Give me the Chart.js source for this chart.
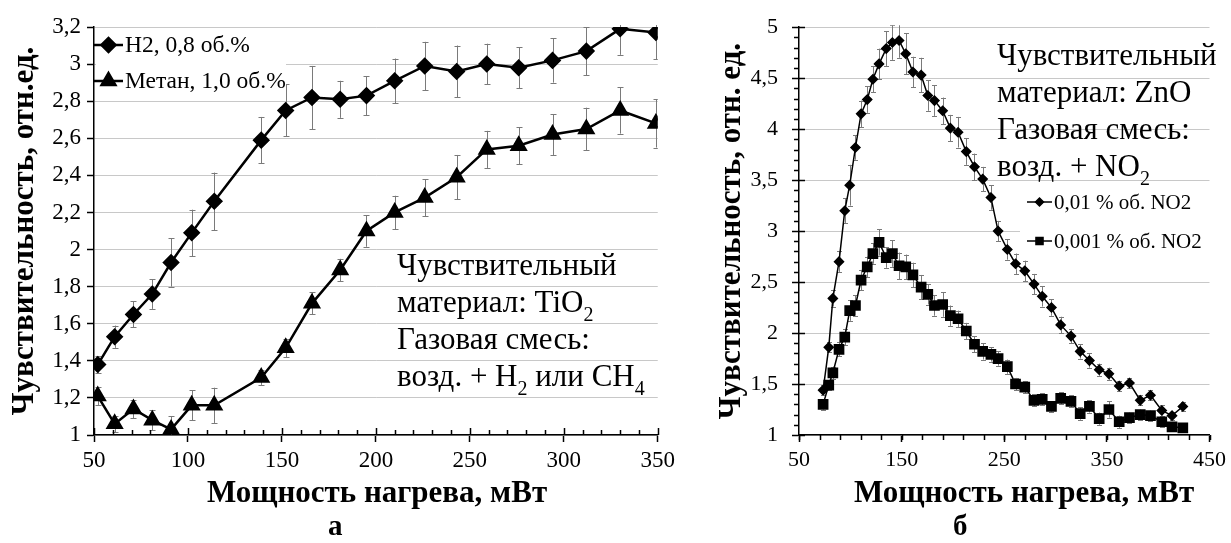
<!DOCTYPE html>
<html>
<head>
<meta charset="utf-8">
<script src="https://cdn.jsdelivr.net/npm/chart.js@4.4.0/dist/chart.umd.min.js"></script>
<style>
    html, body { margin: 0; padding: 0; background: #fff; }
    #wrap { position: relative; width: 1231px; height: 543px; overflow: hidden; font-family: "Liberation Serif", serif; }
    #chartA { position: absolute; left: 0; top: 0; }
    #chartB { position: absolute; left: 690px; top: 0; }
    .cap { position: absolute; top: 511px; font-size: 29px; font-weight: bold; line-height: 1; }
    .warm { position: absolute; left: -999px; top: 0; font-size: 20px; }
</style>
</head>
<body>
<div id="wrap">
    <canvas id="chartA" width="680" height="543"></canvas>
    <canvas id="chartB" width="541" height="543"></canvas>
    <div class="cap" style="left:328px">а</div>
    <div class="cap" style="left:953px">б</div>
    <span class="warm">Чувствительный 0,5</span>
</div>
<script>
// ---- panel а: TiO2, H2 / CH4 ----
const powerA = [52, 61, 71, 81, 91, 102, 114, 139, 152, 166, 181, 195, 210, 226, 243, 259, 276, 294, 312, 330, 349];
const h2Values = [1.38, 1.53, 1.65, 1.76, 1.93, 2.09, 2.26, 2.59, 2.75, 2.82, 2.81, 2.83, 2.91, 2.99, 2.96, 3.00, 2.98, 3.02, 3.07, 3.19, 3.17];
const h2Errors = [0.045, 0.06, 0.07, 0.08, 0.13, 0.125, 0.155, 0.125, 0.14, 0.17, 0.1, 0.105, 0.12, 0.13, 0.14, 0.11, 0.11, 0.12, 0.13, 0.14, 0.145];
const methaneValues = [1.21, 1.06, 1.14, 1.08, 1.03, 1.16, 1.16, 1.31, 1.47, 1.71, 1.89, 2.10, 2.20, 2.28, 2.39, 2.54, 2.56, 2.62, 2.65, 2.75, 2.68];
const methaneErrors = [0.048, 0.045, 0.05, 0.055, 0.07, 0.08, 0.095, 0.04, 0.05, 0.06, 0.06, 0.085, 0.09, 0.1, 0.12, 0.1, 0.1, 0.11, 0.115, 0.125, 0.13];
const seriesNamesA = ['H2, 0,8 об.%', 'Метан, 1,0 об.%'];
const noteA = [
    [['Чувствительный']],
    [['материал: TiO'], ['2', true]],
    [['Газовая смесь:']],
    [['возд. + H'], ['2', true], [' или CH'], ['4', true]],
];

// ---- panel б: ZnO, NO2 ----
const powerB = [73.5, 79, 83, 89, 94.6, 99.4, 105, 110.5, 116.5, 122, 128, 135, 141, 147.5, 154, 161, 169, 175.5, 182, 190, 197.5, 205,
    213, 221, 229, 237, 244, 253, 261, 270, 279, 287, 296, 305, 315, 324, 333, 342.5, 352, 362, 372, 382.5, 392.5, 403.5, 413.5, 424];
const no2HighValues = [1.44, 1.86, 2.34, 2.70, 3.20, 3.45, 3.82, 4.15, 4.29, 4.49, 4.64, 4.79, 4.85, 4.87, 4.74, 4.56, 4.53, 4.33, 4.28, 4.18, 4.01, 3.97,
    3.78, 3.63, 3.51, 3.33, 3.00, 2.82, 2.68, 2.61, 2.48, 2.36, 2.25, 2.08, 1.97, 1.82, 1.73, 1.64, 1.60, 1.48, 1.51, 1.34, 1.39, 1.24, 1.19, 1.28];
const no2HighErrors = [0.05, 0.05, 0.08, 0.1, 0.12, 0.2, 0.12, 0.13, 0.13, 0.13, 0.15, 0.17, 0.17, 0.17, 0.2, 0.15, 0.17, 0.15, 0.15, 0.13, 0.13, 0.15,
    0.13, 0.13, 0.12, 0.12, 0.1, 0.1, 0.1, 0.1, 0.1, 0.1, 0.08, 0.08, 0.07, 0.07, 0.07, 0.06, 0.06, 0.05, 0.05, 0.05, 0.05, 0.05, 0.04, 0.04];
const no2LowValues = [1.30, 1.49, 1.61, 1.84, 1.96, 2.22, 2.27, 2.52, 2.65, 2.78, 2.89, 2.74, 2.78, 2.66, 2.65, 2.57, 2.45, 2.38, 2.27, 2.28, 2.17, 2.14,
    2.02, 1.89, 1.82, 1.79, 1.75, 1.67, 1.50, 1.47, 1.34, 1.35, 1.28, 1.36, 1.33, 1.21, 1.28, 1.16, 1.25, 1.13, 1.17, 1.20, 1.19, 1.13, 1.08, 1.07];
const no2LowErrors = [0.05, 0.05, 0.06, 0.07, 0.08, 0.1, 0.1, 0.1, 0.1, 0.1, 0.13, 0.1, 0.13, 0.13, 0.12, 0.12, 0.12, 0.1, 0.1, 0.12, 0.1, 0.08,
    0.08, 0.08, 0.08, 0.07, 0.07, 0.07, 0.06, 0.06, 0.06, 0.06, 0.05, 0.06, 0.06, 0.06, 0.06, 0.06, 0.08, 0.06, 0.05, 0.05, 0.05, 0.05, 0.04, 0.04];
const seriesNamesB = ['0,01 % об. NO2', '0,001 % об. NO2'];
const noteB = [
    [['Чувствительный']],
    [['материал: ZnO']],
    [['Газовая смесь:']],
    [['возд. + NO'], ['2', true]],
];

const xTitle = 'Мощность нагрева, мВт';
const yTitleA = 'Чувствительность, отн.ед.';
const yTitleB = 'Чувствительность, отн. ед.';

const SERIF = '"Liberation Serif", "Times New Roman", serif';

const toPoints = (xs, ys) => xs.map((x, i) => ({ x: x, y: ys[i] }));
const commaNum = (v) => String(+Number(v).toFixed(1)).replace('.', ',');

// error bars, drawn through the chart scales
const errorBars = {
    id: 'errorBars',
    beforeDatasetsDraw(chart, args, opts) {
        const { ctx, chartArea: a, scales: { x, y } } = chart;
        ctx.save();
        ctx.beginPath();
        ctx.rect(a.left, a.top - 2, a.right - a.left, a.bottom - a.top + 2);
        ctx.clip();
        ctx.strokeStyle = opts.color;
        ctx.lineWidth = 1;
        chart.data.datasets.forEach((ds) => {
            if (!ds.errors) return;
            ds.data.forEach((pt, j) => {
                const px = Math.round(x.getPixelForValue(pt.x)) + 0.5;
                const top = y.getPixelForValue(pt.y + ds.errors[j]);
                const bot = y.getPixelForValue(pt.y - ds.errors[j]);
                ctx.beginPath();
                ctx.moveTo(px, top);
                ctx.lineTo(px, bot);
                ctx.moveTo(px - opts.cap, Math.round(top) + 0.5);
                ctx.lineTo(px + opts.cap, Math.round(top) + 0.5);
                ctx.moveTo(px - opts.cap, Math.round(bot) + 0.5);
                ctx.lineTo(px + opts.cap, Math.round(bot) + 0.5);
                ctx.stroke();
            });
        });
        ctx.restore();
    },
};

// minor ticks, inner half of crossing major ticks, x-axis title
const axisMarks = {
    id: 'axisMarks',
    afterDraw(chart, args, o) {
        const { ctx, chartArea: a, scales: { x, y } } = chart;
        ctx.save();
        ctx.strokeStyle = '#000';
        ctx.lineWidth = 1.5;
        ctx.beginPath();
        if (o.xMinor) {
            for (let v = x.min; v <= x.max + 1e-6; v += o.xMinor) {
                const px = Math.round(x.getPixelForValue(v)) + 0.5;
                const major = Math.abs(v / o.xMajor - Math.round(v / o.xMajor)) < 1e-6;
                if (major) {
                    ctx.moveTo(px, a.bottom);
                    ctx.lineTo(px, a.bottom - o.xMajorIn);
                } else {
                    ctx.moveTo(px, a.bottom);
                    ctx.lineTo(px, a.bottom + o.xMinorLen);
                }
            }
        }
        if (o.yMinor) {
            for (let v = y.min; v <= y.max + 1e-6; v += o.yMinor) {
                const py = Math.round(y.getPixelForValue(v)) + 0.5;
                const major = Math.abs(v / o.yMajor - Math.round(v / o.yMajor)) < 1e-6;
                if (major) {
                    ctx.moveTo(a.left, py);
                    ctx.lineTo(a.left + o.yMajorIn, py);
                } else {
                    ctx.moveTo(a.left, py);
                    ctx.lineTo(a.left - o.yMinorLen, py);
                }
            }
        }
        ctx.stroke();

        ctx.fillStyle = '#000';
        ctx.font = 'bold ' + o.titleSize + 'px ' + SERIF;
        ctx.textAlign = 'center';
        ctx.textBaseline = 'middle';
        ctx.fillText(xTitle, o.titleX, o.titleY);
        ctx.restore();
    },
};

const drawRich = (ctx, parts, x, y, size) => {
    let cx = x;
    parts.forEach(([text, sub]) => {
        const fs = sub ? Math.round(size * 0.65) : size;
        ctx.font = fs + 'px ' + SERIF;
        ctx.fillText(text, cx, sub ? y + size * 0.28 : y);
        cx += ctx.measureText(text).width;
    });
};

// legend inside the plot + text note
const insideLegend = {
    id: 'insideLegend',
    beforeDatasetsDraw(chart, args, o) {
        if (!o.box) return;
        const { ctx } = chart;
        ctx.save();
        ctx.fillStyle = '#fff';
        ctx.fillRect(o.box[0], o.box[1], o.box[2], o.box[3]);
        ctx.restore();
    },
    afterDatasetsDraw(chart, args, o) {
        const { ctx } = chart;
        ctx.save();
        ctx.fillStyle = '#000';
        ctx.textBaseline = 'alphabetic';
        o.note.forEach((line, i) => drawRich(ctx, line, o.noteX, o.noteY + i * o.noteGap, o.noteSize));
        chart.data.datasets.forEach((ds, i) => {
            const cy = o.y + i * o.rowGap;
            ctx.strokeStyle = ds.borderColor;
            ctx.lineWidth = ds.borderWidth;
            ctx.beginPath();
            ctx.moveTo(o.x, cy);
            ctx.lineTo(o.x + o.lineLen, cy);
            ctx.stroke();
            ctx.fillStyle = '#000';
            Chart.helpers.drawPoint(ctx, { pointStyle: ds.pointStyle, radius: o.markRadius[i], rotation: 0, borderWidth: 1 }, o.x + o.lineLen / 2, cy);
            ctx.font = o.size + 'px ' + SERIF;
            ctx.textBaseline = 'middle';
            ctx.fillText(ds.label, o.x + o.lineLen + 2, cy + 1);
        });
        ctx.restore();
    },
};

const makeOptions = (cfg) => ({
    responsive: false,
    animation: false,
    layout: { padding: { left: 0, right: cfg.padRight, top: 27, bottom: 0 } },
    plugins: {
        legend: { display: false },
        tooltip: { enabled: false },
        errorBars: { color: '#7a7a7a', cap: cfg.cap },
        axisMarks: cfg.marks,
        insideLegend: cfg.legend,
    },
    scales: {
        x: {
            type: 'linear',
            min: cfg.xMin,
            max: cfg.xMax,
            afterFit: (s) => { s.height = 108; },
            border: { color: '#000', width: 1.5 },
            grid: { drawOnChartArea: false, tickLength: 7, tickColor: '#000', tickWidth: 1.5 },
            ticks: { stepSize: cfg.xStep, color: '#000', padding: 5, maxRotation: 0, font: { family: SERIF, size: cfg.tickSize } },
        },
        y: {
            min: cfg.yMin,
            max: cfg.yMax,
            afterFit: (s) => { s.width = cfg.yWidth; },
            border: { color: '#000', width: 1.5 },
            grid: { color: '#c8c8c8', lineWidth: 1, tickLength: 7, tickColor: '#000', tickWidth: 1.5 },
            ticks: { stepSize: cfg.yStep, color: '#000', padding: cfg.yTickPad, font: { family: SERIF, size: cfg.tickSize }, callback: (v) => commaNum(v) },
            title: { display: true, text: cfg.yTitle, color: '#000', padding: { top: cfg.yTitlePad, bottom: 0 }, font: { family: SERIF, size: 31, weight: 'bold' } },
        },
    },
});

const drawCharts = () => {
    new Chart(document.getElementById('chartA'), {
        type: 'line',
        data: {
            datasets: [
                {
                    label: seriesNamesA[0],
                    data: toPoints(powerA, h2Values),
                    errors: h2Errors,
                    borderColor: '#000',
                    backgroundColor: '#000',
                    borderWidth: 2.5,
                    pointStyle: 'rectRot',
                    pointRadius: 7,
                    tension: 0,
                },
                {
                    label: seriesNamesA[1],
                    data: toPoints(powerA, methaneValues),
                    errors: methaneErrors,
                    borderColor: '#000',
                    backgroundColor: '#000',
                    borderWidth: 2.5,
                    pointStyle: 'triangle',
                    pointRadius: 8,
                    tension: 0,
                },
            ],
        },
        options: makeOptions({
            padRight: 20, cap: 3, xMin: 50, xMax: 350, xStep: 50, yMin: 1, yMax: 3.2, yStep: 0.2,
            yWidth: 94, yTickPad: 6, yTitlePad: 6, tickSize: 23, yTitle: yTitleA,
            marks: { xMinor: 10, xMajor: 50, xMinorLen: -5, xMajorIn: 7, yMinor: 0, titleSize: 31, titleX: 377, titleY: 494 },
            legend: {
                box: [96, 28, 190, 68], x: 94, y: 45, rowGap: 36, lineLen: 29, size: 23.5, markRadius: [7, 8],
                note: noteA, noteX: 397, noteY: 275, noteGap: 37, noteSize: 31,
            },
        }),
        plugins: [errorBars, axisMarks, insideLegend],
    });

    new Chart(document.getElementById('chartB'), {
        type: 'line',
        data: {
            datasets: [
                {
                    label: seriesNamesB[0],
                    data: toPoints(powerB, no2HighValues),
                    errors: no2HighErrors,
                    borderColor: '#000',
                    backgroundColor: '#000',
                    borderWidth: 1.5,
                    pointStyle: 'rectRot',
                    pointRadius: 4.5,
                    tension: 0,
                },
                {
                    label: seriesNamesB[1],
                    data: toPoints(powerB, no2LowValues),
                    errors: no2LowErrors,
                    borderColor: '#000',
                    backgroundColor: '#000',
                    borderWidth: 1.5,
                    pointStyle: 'rect',
                    pointRadius: 6.5,
                    tension: 0,
                },
            ],
        },
        options: makeOptions({
            padRight: 19, cap: 2.5, xMin: 50, xMax: 450, xStep: 100, yMin: 1, yMax: 5, yStep: 0.5,
            yWidth: 109, yTickPad: 14, yTitlePad: 23, tickSize: 22, yTitle: yTitleB,
            marks: { xMinor: 20, xMajor: 100, xMinorLen: 5, xMajorIn: 7, yMinor: 0.1, yMajor: 0.5, yMinorLen: 5, yMajorIn: 6,
                titleSize: 31, titleX: 334, titleY: 494 },
            legend: {
                box: [330, 188, 190, 68], x: 337, y: 202, rowGap: 39, lineLen: 25, size: 21, markRadius: [4, 5],
                note: noteB, noteX: 307, noteY: 65, noteGap: 37, noteSize: 31,
            },
        }),
        plugins: [errorBars, axisMarks, insideLegend],
    });
};

Promise.all([
    document.fonts.load('22px "Liberation Serif"'),
    document.fonts.load('bold 28px "Liberation Serif"'),
]).then(drawCharts, drawCharts);
</script>
</body>
</html>
